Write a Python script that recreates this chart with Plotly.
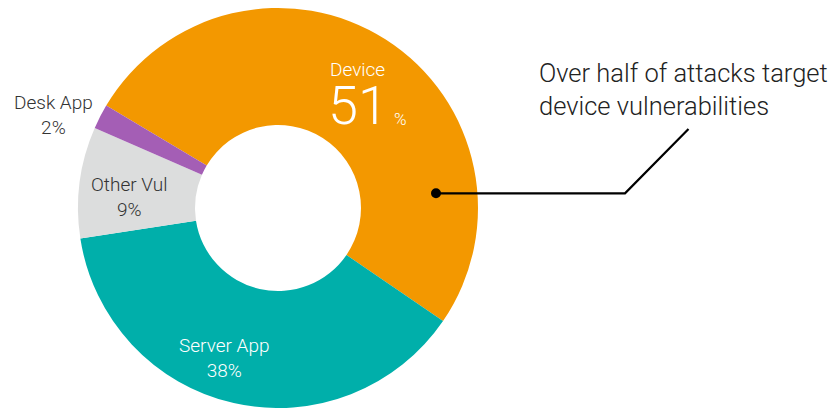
import plotly.graph_objects as go

# Share of attacks by vulnerability type
categories = ["Device", "Server App", "Other Vul", "Desk App"]
shares = [51, 38, 9, 2]
colors = ["#F39800", "#00AFAA", "#DCDDDD", "#A45EB5"]

W, H = 836, 408
FONT = "Roboto"


def px(x):
    return x / W


def py(y):
    return 1 - y / H


fig = go.Figure(
    go.Pie(
        labels=categories,
        values=shares,
        marker=dict(colors=colors, line=dict(width=0)),
        hole=0.415,
        sort=False,
        direction="clockwise",
        rotation=300.8,
        textinfo="none",
        hoverinfo="label+percent",
        showlegend=False,
        domain=dict(x=[px(78), px(478)], y=[0, 400 / H]),
    )
)

annotations = []


def label(text, x, y, size, color, xanchor="center", align="center"):
    annotations.append(
        dict(
            text=text, x=px(x), y=py(y), xref="paper", yref="paper",
            xanchor=xanchor, yanchor="middle", align=align, showarrow=False,
            font=dict(family=FONT, size=size, color=color, weight=300),
        )
    )


# Device: name, large number, small percent sign
label(categories[0], 357.5, 69.0, 19, "white")
label(str(shares[0]), 358, 106, 54, "white")
label("%", 400.5, 119, 17, "white")

label(f"{categories[1]}<br>{shares[1]}%", 223.5, 357.5, 19, "white")
label(f"{categories[2]}<br>{shares[2]}%", 128.5, 197, 19, "#333333")
label(f"{categories[3]}<br>{shares[3]}%", 53, 115, 19, "#333333")

# Callout text
label("Over half of attacks target<br>device vulnerabilities", 537, 89.5, 25.5,
      "#222222", xanchor="left", align="left")

shapes = [
    dict(type="path", xref="paper", yref="paper",
         path=f"M {px(436)},{py(193.3)} L {px(625)},{py(193.3)} L {px(688.5)},{py(129)}",
         line=dict(color="black", width=2.2)),
    dict(type="circle", xref="paper", yref="paper",
         x0=px(431), x1=px(441), y0=py(188.3), y1=py(198.3),
         fillcolor="black", line=dict(width=0)),
]

fig.update_layout(
    width=W, height=H,
    margin=dict(l=0, r=0, t=0, b=0),
    paper_bgcolor="white", plot_bgcolor="white",
    annotations=annotations,
    shapes=shapes,
)

fig.write_html("out.html")
